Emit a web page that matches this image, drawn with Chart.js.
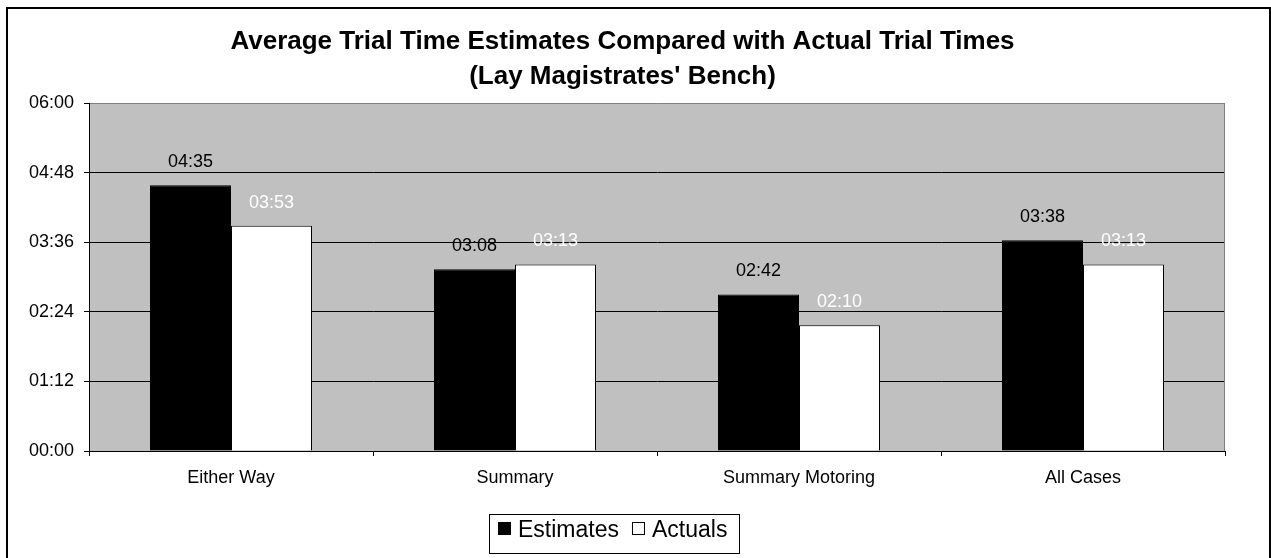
<!DOCTYPE html>
<html>
<head>
<meta charset="utf-8">
<title>Average Trial Time Estimates Compared with Actual Trial Times</title>
<script src="https://cdn.jsdelivr.net/npm/chart.js@4.4.1/dist/chart.umd.min.js"></script>
<style>
  html, body { margin: 0; padding: 0; background: #ffffff; }
  #wrap { width: 1271px; height: 558px; position: relative; overflow: hidden; }
  canvas { display: block; }
</style>
</head>
<body>
<div id="wrap"><canvas id="chart" width="1271" height="558"></canvas></div>
<script>
// ---- data (times in minutes) ----
const categories = ['Either Way', 'Summary', 'Summary Motoring', 'All Cases'];
const seriesNames = ['Estimates', 'Actuals'];
const estimates = [275, 188, 162, 218];   // 04:35, 03:08, 02:42, 03:38
const actuals   = [233, 193, 130, 193];   // 03:53, 03:13, 02:10, 03:13
const titleLines = ['Average Trial Time Estimates Compared with Actual Trial Times', "(Lay Magistrates' Bench)"];
const yTickStep = 72;   // 01:12
const yTickMax = 360;   // 06:00

const FONT = '"Liberation Sans", Arial, Helvetica, sans-serif';

function hhmm(mins) {
  const h = Math.floor(mins / 60);
  const m = Math.round(mins - h * 60);
  return String(h).padStart(2, '0') + ':' + String(m).padStart(2, '0');
}

// grey plot background
const plotBackground = {
  id: 'plotBackground',
  beforeDraw(chart) {
    const { ctx, chartArea: a } = chart;
    ctx.save();
    ctx.fillStyle = '#c0c0c0';
    ctx.fillRect(a.left, a.top, a.right - a.left, a.bottom - a.top);
    ctx.restore();
  }
};

// right-hand edge of the plot and the outer chart frame
const frames = {
  id: 'frames',
  beforeDatasetsDraw(chart) {
    const { ctx, chartArea: a } = chart;
    ctx.save();
    ctx.strokeStyle = '#808080';
    ctx.lineWidth = 1;
    ctx.beginPath();
    ctx.moveTo(Math.round(a.right) - 0.5, a.top);
    ctx.lineTo(Math.round(a.right) - 0.5, a.bottom);
    ctx.stroke();
    ctx.restore();
  },
  afterDraw(chart) {
    const { ctx, width } = chart;
    ctx.save();
    ctx.strokeStyle = '#000';
    ctx.lineWidth = 2;
    ctx.beginPath();
    ctx.moveTo(7, chart.height + 5);
    ctx.lineTo(7, 8);
    ctx.lineTo(width - 1, 8);
    ctx.lineTo(width - 1, chart.height + 5);
    ctx.stroke();
    ctx.restore();
  }
};

// value labels above each bar
const valueLabels = {
  id: 'valueLabels',
  afterDatasetsDraw(chart) {
    const { ctx } = chart;
    ctx.save();
    ctx.font = '18px ' + FONT;
    ctx.textAlign = 'center';
    ctx.textBaseline = 'middle';
    chart.data.datasets.forEach((ds, di) => {
      const meta = chart.getDatasetMeta(di);
      ctx.fillStyle = ds.labelColor;
      meta.data.forEach((bar, i) => {
        ctx.fillText(hhmm(ds.data[i]), bar.x, bar.y - 23);
      });
    });
    ctx.restore();
  }
};

// boxed legend under the axis
const boxedLegend = {
  id: 'boxedLegend',
  afterDraw(chart) {
    const { ctx, chartArea: a } = chart;
    const marker = 13, padL = 9, padR = 12, gapText = 7, gapItem = 13;
    ctx.save();
    ctx.font = '23px ' + FONT;
    const items = chart.data.datasets.map(ds => ({
      text: ds.label, fill: ds.backgroundColor, w: ctx.measureText(ds.label).width
    }));
    let total = padL + padR;
    items.forEach((it, i) => { total += marker + gapText + it.w + (i ? gapItem : 0); });
    const cx = chart.width / 2 - 21;
    const x0 = Math.round(cx - total / 2);
    const top = Math.round(a.bottom) + 63;
    const bottom = top + 39;
    ctx.strokeStyle = '#000';
    ctx.lineWidth = 1;
    ctx.strokeRect(x0 + 0.5, top + 0.5, Math.round(total), bottom - top);
    let x = x0 + padL;
    const midY = top + 17;
    items.forEach((it, i) => {
      if (i) x += gapItem;
      ctx.fillStyle = it.fill;
      ctx.fillRect(x, top + 8, marker, marker);
      ctx.strokeRect(x + 0.5, top + 8.5, marker - 1, marker - 1);
      x += marker + gapText;
      ctx.fillStyle = '#000';
      ctx.textAlign = 'left';
      ctx.textBaseline = 'middle';
      ctx.fillText(it.text, x, midY);
      x += it.w;
    });
    ctx.restore();
  }
};

new Chart(document.getElementById('chart'), {
  type: 'bar',
  data: {
    labels: categories,
    datasets: [
      {
        label: seriesNames[0],
        data: estimates,
        backgroundColor: '#000000',
        borderColor: '#000000',
        borderWidth: 1,
        labelColor: '#000000'
      },
      {
        label: seriesNames[1],
        data: actuals,
        backgroundColor: '#ffffff',
        borderColor: '#000000',
        borderWidth: 1,
        labelColor: '#ffffff'
      }
    ]
  },
  options: {
    responsive: false,
    animation: false,
    devicePixelRatio: 1,
    layout: { padding: { top: 7, left: 20, right: 46, bottom: 67 } },
    datasets: {
      bar: { barThickness: 81, inflateAmount: 0 }
    },
    plugins: {
      legend: { display: false },
      tooltip: { enabled: false },
      title: {
        display: true,
        text: titleLines,
        color: '#000',
        font: { family: FONT, size: 26, weight: 'bold', lineHeight: 1.35 },
        padding: { top: 17, bottom: 8.8 }
      }
    },
    scales: {
      x: {
        grid: {
          drawOnChartArea: false,
          drawTicks: true,
          tickLength: 5,
          color: '#000',
          offset: true
        },
        border: { color: '#000', width: 1 },
        ticks: {
          color: '#000',
          font: { family: FONT, size: 18 },
          padding: 11,
          maxRotation: 0
        },
        afterFit(scale) { scale.height = 40; }
      },
      y: {
        min: 0,
        max: yTickMax,
        grid: {
          color: ctx => (ctx.tick && ctx.tick.value === yTickMax) ? '#808080' : '#000',
          tickColor: '#000',
          lineWidth: 1,
          tickLength: 5
        },
        border: { color: '#000', width: 1 },
        ticks: {
          stepSize: yTickStep,
          color: '#000',
          font: { family: FONT, size: 18 },
          padding: 10,
          callback: v => hhmm(v)
        },
        afterFit(scale) { scale.width = 69; }
      }
    }
  },
  plugins: [plotBackground, frames, valueLabels, boxedLegend]
});
</script>
</body>
</html>
